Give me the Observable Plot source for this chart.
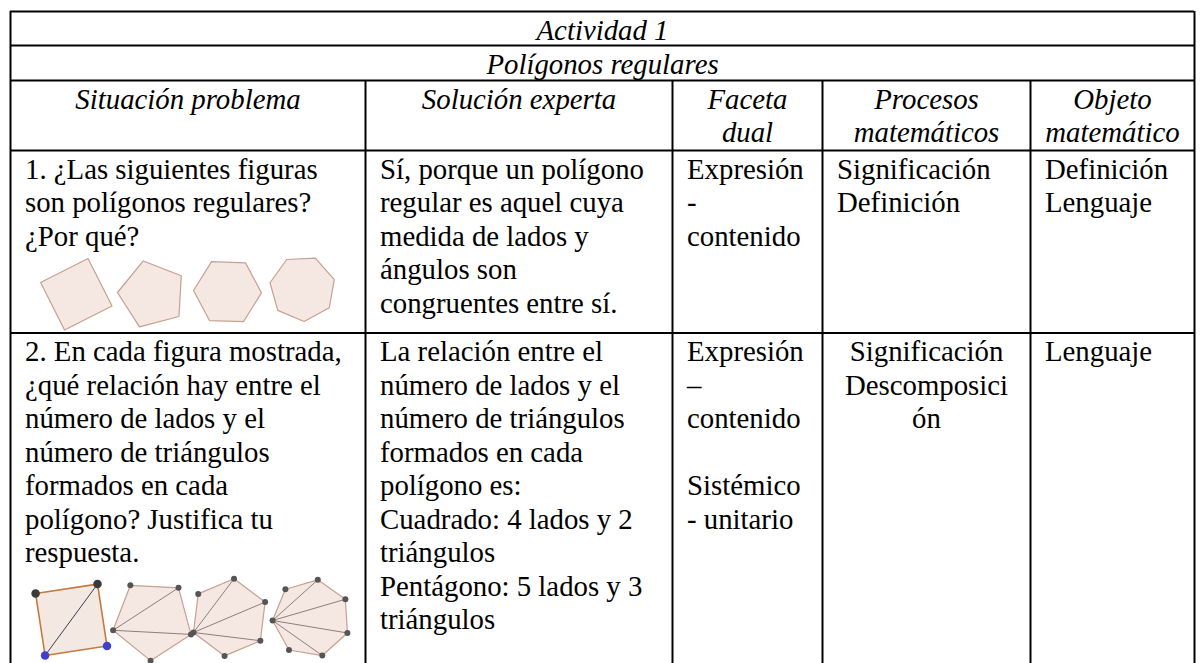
<!DOCTYPE html>
<html><head><meta charset="utf-8">
<script src="https://cdn.jsdelivr.net/npm/d3@7"></script>
<script src="https://cdn.jsdelivr.net/npm/@observablehq/plot@0.6"></script>
<style>body{margin:0;background:#fff}</style>
</head><body><div id="chart"></div>
<script>
// ---------- data ----------
const title = "Actividad 1";
const subtitle = "Polígonos regulares";
const headers = [
  ["Situación problema"],
  ["Solución experta"],
  ["Faceta", "dual"],
  ["Procesos", "matemáticos"],
  ["Objeto", "matemático"]
];
const row1Cells = [
  ["1. ¿Las siguientes figuras", "son polígonos regulares?", "¿Por qué?"],
  ["Sí, porque un polígono", "regular es aquel cuya", "medida de lados y", "ángulos son", "congruentes entre sí."],
  ["Expresión", "-", "contenido"],
  ["Significación", "Definición"],
  ["Definición", "Lenguaje"]
];
const row2Cells = [
  ["2. En cada figura mostrada,", "¿qué relación hay entre el", "número de lados y el", "número de triángulos", "formados en cada", "polígono? Justifica tu", "respuesta."],
  ["La relación entre el", "número de lados y el", "número de triángulos", "formados en cada", "polígono es:", "Cuadrado: 4 lados y 2", "triángulos", "Pentágono: 5 lados y 3", "triángulos"],
  ["Expresión", "–", "contenido", "", "Sistémico", "- unitario"],
  ["Significación", "Descomposici", "ón"],
  ["Lenguaje"]
];
const polygonSides = [4, 5, 6, 7];
const row1Turn = [-161.8, 183.3, 182, 190];
const row2Turn = [-143.7, 165, 157, 176.6];

// ---------- layout ----------
const W = 1200, H = 663;
const colX = [10, 365, 672, 822, 1030, 1194];
const rowY = [11, 45, 80, 150, 332.5];
const pad = 14.5;
const lineH = 33.5;
const fs = 28.8;
const base = (top, i) => top + 28 + i * lineH;
const lc = (top, i) => base(top, i) - 0.32 * fs;
const centerCol = c => (colX[c] + colX[c + 1]) / 2;

const texts = [];
const itexts = [];
itexts.push({x: (colX[0] + colX[5]) / 2, y: lc(rowY[0], 0), t: title});
itexts.push({x: (colX[0] + colX[5]) / 2, y: lc(rowY[1], 0), t: subtitle});
headers.forEach((lines, c) => lines.forEach((t, i) => itexts.push({x: centerCol(c), y: lc(rowY[2], i), t})));
row1Cells.forEach((lines, c) => lines.forEach((t, i) => texts.push({x: colX[c] + pad, y: lc(rowY[3], i), t, a: "start"})));
row2Cells.forEach((lines, c) => lines.forEach((t, i) => {
  if (c === 3) texts.push({x: centerCol(c), y: lc(rowY[4], i), t, a: "middle"});
  else texts.push({x: colX[c] + pad, y: lc(rowY[4], i), t, a: "start"});
}));

// polygon geometry (centre x, centre y, radius) of each drawing
const r1Centers = [[75.8, 293.8, 37.6], [151.6, 294, 34.7], [227, 291.2, 34], [302, 288, 33]];
const r2Centers = [[70.8, 619.3, 44.3], [152.2, 619.2, 41], [228.8, 616.8, 38.9], [310.9, 617.7, 38.9]];
function verts(n, cx, cy, r, turn) {
  const a0 = turn * Math.PI / 180;
  return d3.range(n).map(k => {
    const a = a0 + 2 * Math.PI * k / n;
    return {x: cx + r * Math.cos(a), y: cy + r * Math.sin(a)};
  });
}
const polyPts = [];
const fans = [];
const dots = [];
polygonSides.forEach((n, i) => {
  const [cx, cy, r] = r1Centers[i];
  const v = verts(n, cx, cy, r, row1Turn[i]);
  v.forEach((p, k) => polyPts.push({...p, id: "a" + i, k, sq: false}));
});
polygonSides.forEach((n, i) => {
  const [cx, cy, r] = r2Centers[i];
  const v = verts(n, cx, cy, r, row2Turn[i]);
  v.forEach((p, k) => polyPts.push({...p, id: "b" + i, k, sq: i === 0}));
  if (n === 4) {
    fans.push({x1: v[3].x, y1: v[3].y, x2: v[1].x, y2: v[1].y, sq: true});
    v.forEach((p, k) => dots.push({...p, c: (k === 2 || k === 3) ? "#4040d0" : "#3a3a3a", r: 2.8}));
  } else {
    for (let k = 2; k <= n - 2; k++) fans.push({x1: v[0].x, y1: v[0].y, x2: v[k].x, y2: v[k].y, sq: false});
    v.forEach(p => dots.push({...p, c: "#555", r: 1.4}));
  }
});

const hLines = rowY.slice();
const vLines = [
  {x: colX[0], y1: rowY[0], y2: H + 5},
  {x: colX[5], y1: rowY[0], y2: H + 5},
  ...colX.slice(1, 5).map(x => ({x, y1: rowY[2], y2: H + 5}))
];

const chart = Plot.plot({
  width: W, height: H, margin: 0,
  x: {type: "linear", domain: [0, W], range: [0, W], axis: null},
  y: {type: "linear", domain: [0, H], range: [0, H], axis: null},
  style: {fontFamily: "'Liberation Serif', 'Times New Roman', serif", background: "#fff"},
  marks: [
    Plot.line(polyPts.filter(d => !d.sq), {x: "x", y: "y", z: "id", fill: "#f5e8e2", stroke: "#c6a091", strokeWidth: 1.2, curve: "linear-closed"}),
    Plot.line(polyPts.filter(d => d.sq), {x: "x", y: "y", z: "id", fill: "#f4e8e3", stroke: "#c47a3e", strokeWidth: 1.6, curve: "linear-closed"}),
    Plot.link(fans, {x1: "x1", y1: "y1", x2: "x2", y2: "y2", stroke: d => d.sq ? "#3e3e4a" : "#8d7e7c", strokeWidth: 1}),
    Plot.dot(dots, {x: "x", y: "y", r: "r", fill: "c", stroke: null}),
    Plot.ruleY(hLines, {y: d => d, x1: () => colX[0], x2: () => colX[5], stroke: "#000", strokeWidth: 2}),
    Plot.ruleX(vLines, {x: "x", y1: "y1", y2: "y2", stroke: "#000", strokeWidth: 2}),
    Plot.text(itexts, {x: "x", y: "y", text: "t", textAnchor: "middle", fontSize: fs, fontStyle: "italic", fill: "#000"}),
    Plot.text(texts.filter(d => d.a === "start"), {x: "x", y: "y", text: "t", textAnchor: "start", fontSize: fs, fill: "#000"}),
    Plot.text(texts.filter(d => d.a === "middle"), {x: "x", y: "y", text: "t", textAnchor: "middle", fontSize: fs, fill: "#000"})
  ]
});
document.getElementById("chart").appendChild(chart);
</script>
</body></html>
